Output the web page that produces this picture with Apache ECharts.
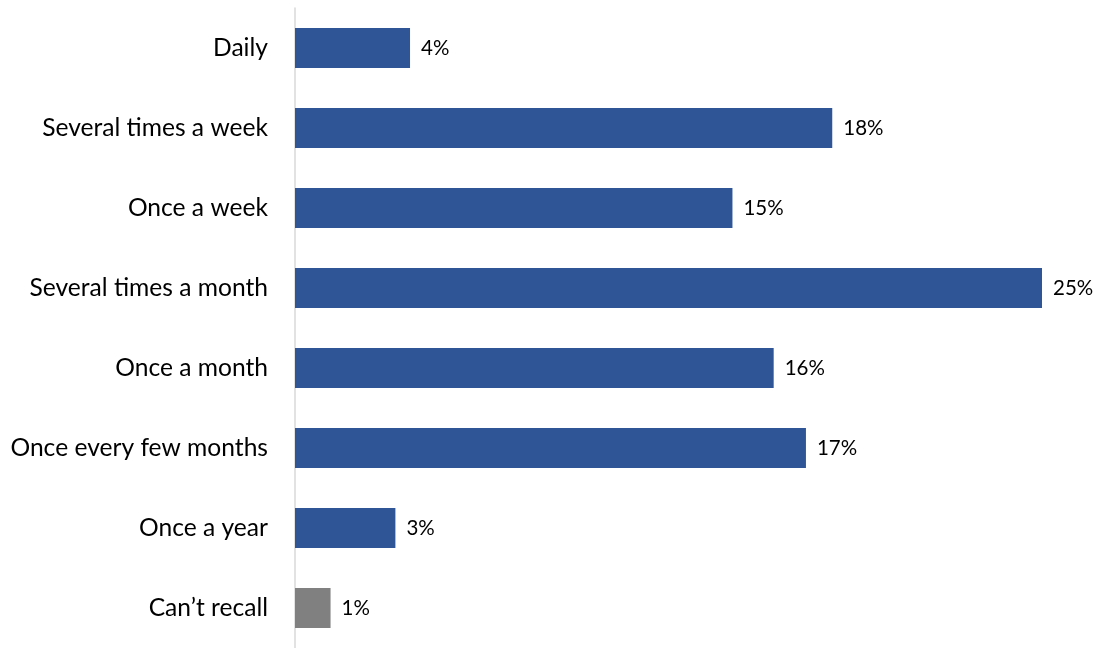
<!DOCTYPE html>
<html>
<head>
<meta charset="utf-8">
<script src="https://cdn.jsdelivr.net/npm/echarts@6/dist/echarts.min.js"></script>
<style>html,body{margin:0;padding:0;background:#fff;}#c{width:1097px;height:648px;}</style>
</head>
<body>
<div id="c"></div>
<script>
const categories = ["Daily","Several times a week","Once a week","Several times a month","Once a month","Once every few months","Once a year","Can\u2019t recall"];
const values = [3.85, 17.98, 14.64, 25.0, 16.02, 17.1, 3.36, 1.19];
const valueLabels = ["4%","18%","15%","25%","16%","17%","3%","1%"];
const barColors = ["#2f5597","#2f5597","#2f5597","#2f5597","#2f5597","#2f5597","#2f5597","#808080"];

const chart = echarts.init(document.getElementById('c'), null, {renderer:'canvas'});
chart.setOption({
  animation:false,
  backgroundColor:'#fff',
  grid:{left:295, right:55, top:8, bottom:0, containLabel:false},
  xAxis:{type:'value', min:0, max:25, show:false},
  yAxis:{type:'category', inverse:true, data:categories,
    axisLine:{show:true, lineStyle:{color:'#d9d9d9', width:1.5}},
    axisTick:{show:false},
    axisLabel:{margin:27, fontFamily:'Lato, "Open Sans", sans-serif', fontSize:24.6, color:'#000'}
  },
  series:[{
    type:'bar',
    barCategoryGap:'50%',
    data: values.map((v,i)=>({value:v, itemStyle:{color:barColors[i]}})),
    label:{show:true, position:'right', distance:11, fontFamily:'Lato, "Open Sans", sans-serif', fontSize:20.5, color:'#000',
      formatter:(p)=>valueLabels[p.dataIndex]}
  }]
});
</script>
</body>
</html>
